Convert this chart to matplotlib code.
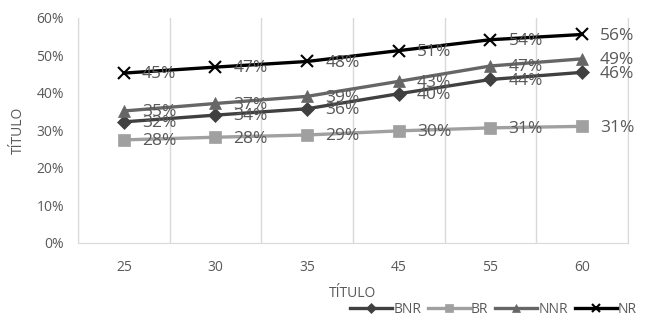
import numpy as np
import matplotlib
matplotlib.use("Agg")
import matplotlib.pyplot as plt

# data
categorias = ["25", "30", "35", "45", "55", "60"]
bnr = [32.3, 34.1, 35.8, 39.8, 43.6, 45.5]
br = [27.5, 28.2, 28.8, 29.9, 30.7, 31.1]
nnr = [35.2, 37.2, 39.1, 43.1, 47.2, 49.1]
nr = [45.3, 46.9, 48.4, 51.3, 54.2, 55.6]

plt.rcParams["font.family"] = ["Open Sans", "DejaVu Sans"]
txt = "#595959"
grid = "#d9d9d9"

fig = plt.figure(figsize=(6.56, 3.21), dpi=100)
ax = fig.add_axes([0.119, 0.243, 0.838, 0.701])

x = np.arange(len(categorias))
series = [
    ("BNR", bnr, "#404040", "D", 7),
    ("BR", br, "#a0a0a0", "s", 8),
    ("NNR", nnr, "#666666", "^", 9),
    ("NR", nr, "#000000", "x", 9),
]
for nome, vals, cor, mk, ms in series:
    v = np.array(vals) / 100
    ax.plot(x, v, color=cor, lw=2.4, marker=mk, markersize=ms,
            markeredgewidth=1.5 if mk == "x" else 0.5, label=nome)
    for xi, vi, lab in zip(x, v, vals):
        ax.annotate(f"{round(lab):.0f}%", (xi, vi), xytext=(13, -1),
                    textcoords="offset points", ha="left", va="center",
                    fontsize=12.5, color=txt)

ax.set_xlim(-0.5, len(categorias) - 0.5)
ax.set_ylim(0, 0.6)
ax.set_xticks(x)
ax.set_xticklabels(categorias)
ax.set_yticks(np.arange(0, 0.61, 0.1))
ax.set_yticklabels([f"{int(round(t*100))}%" for t in np.arange(0, 0.61, 0.1)])
ax.set_xticks(np.arange(-0.5, len(categorias)), minor=True)
ax.grid(axis="x", which="minor", color=grid, lw=1)
ax.tick_params(which="both", length=0)
ax.tick_params(axis="both", labelsize=10, labelcolor=txt)
ax.tick_params(axis="x", pad=12)
ax.tick_params(axis="y", pad=10)
ax.spines["top"].set_visible(False)
for s in ["left", "right", "bottom"]:
    ax.spines[s].set_color(grid)

ax.set_xlabel("TÍTULO", fontsize=10, color=txt, labelpad=8)
ax.set_ylabel("TÍTULO", fontsize=10, color=txt, labelpad=8)

fig.legend(loc="lower right", bbox_to_anchor=(0.99, -0.025), ncol=4,
           frameon=False, fontsize=10, labelcolor=txt, handlelength=3.0,
           columnspacing=0.5, handletextpad=0.1, markerscale=0.7)

fig.savefig("out.png", dpi=100)
